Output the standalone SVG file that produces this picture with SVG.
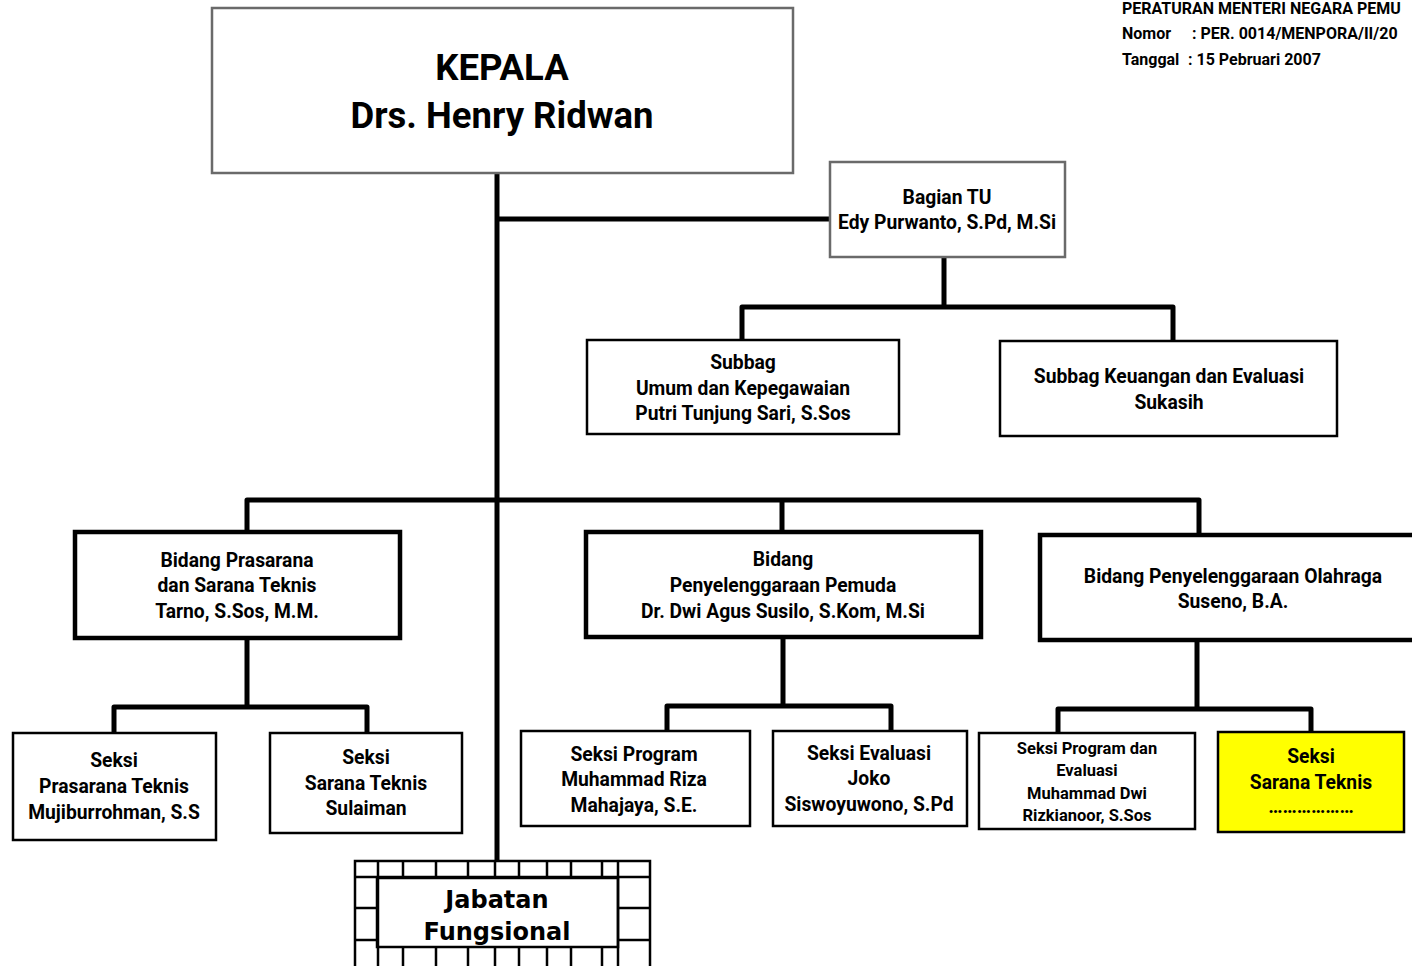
<svg xmlns="http://www.w3.org/2000/svg" width="1412" height="966" viewBox="0 0 1412 966">
<style>
text{font-family:Roboto,"Liberation Sans",sans-serif;font-weight:bold;fill:#000;text-anchor:middle}
.t{font-size:19.3px}
.s{font-size:16.5px}
.hd{font-size:16px;text-anchor:start}
.big{font-size:36.5px}
.jf{font-family:"DejaVu Sans","Liberation Sans",sans-serif;font-size:24px}
.gray{fill:#fff;stroke:#6a6a6a;stroke-width:2.5}
.thin{fill:#fff;stroke:#000;stroke-width:2.5}
.thick{fill:#fff;stroke:#000;stroke-width:4.5}
.yel{fill:#ffff00;stroke:#000;stroke-width:2.5}
.c{fill:none;stroke:#000;stroke-width:5;stroke-linejoin:round}
.g{fill:none;stroke:#000;stroke-width:2.5}
</style>
<rect width="1412" height="966" fill="#fff"/>
<g id="header">
<text class="hd" x="1122" y="14">PERATURAN MENTERI NEGARA PEMU</text>
<text class="hd" x="1122" y="39">Nomor</text>
<text class="hd" x="1192" y="39">: PER. 0014/MENPORA/II/20</text>
<text class="hd" x="1122" y="65">Tanggal</text>
<text class="hd" x="1188" y="65">: 15 Pebruari 2007</text>
</g>
<g id="connectors">
<path class="c" d="M497 173 V862"/>
<path class="c" d="M497 219 H836"/>
<path class="c" d="M944 257 V307 M742 340 V307 H1173 V341"/>
<path class="c" d="M247 532 V500 H1199 V535 M782 500 V532"/>
<path class="c" d="M247 638 V707 M114 733 V707 H367 V733"/>
<path class="c" d="M783 637 V706 M667 731 V706 H891 V731"/>
<path class="c" d="M1197 640 V709 M1058 733 V709 H1311 V732"/>
</g>
<g id="kepala">
<rect class="gray" x="212" y="8" width="581" height="165"/>
<text class="big" x="502" y="80">KEPALA</text>
<text class="big" x="502" y="128">Drs. Henry Ridwan</text>
</g>
<g id="bagian-tu">
<rect class="gray" x="830" y="162" width="235" height="95"/>
<text class="t" x="947" y="204">Bagian TU</text>
<text class="t" x="947" y="229">Edy Purwanto, S.Pd, M.Si</text>
</g>
<g id="subbag-umum">
<rect class="thin" x="587" y="340" width="312" height="94"/>
<text class="t" x="743" y="369">Subbag</text>
<text class="t" x="743" y="395">Umum dan Kepegawaian</text>
<text class="t" x="743" y="420">Putri Tunjung Sari, S.Sos</text>
</g>
<g id="subbag-keuangan">
<rect class="thin" x="1000" y="341" width="337" height="95"/>
<text class="t" x="1169" y="383">Subbag Keuangan dan Evaluasi</text>
<text class="t" x="1169" y="409">Sukasih</text>
</g>
<g id="bidang-prasarana">
<rect class="thick" x="75" y="532" width="325" height="106"/>
<text class="t" x="237" y="567">Bidang Prasarana</text>
<text class="t" x="237" y="592">dan Sarana Teknis</text>
<text class="t" x="237" y="618">Tarno, S.Sos, M.M.</text>
</g>
<g id="bidang-pemuda">
<rect class="thick" x="586" y="532" width="395" height="105"/>
<text class="t" x="783" y="566">Bidang</text>
<text class="t" x="783" y="592">Penyelenggaraan Pemuda</text>
<text class="t" x="783" y="618">Dr. Dwi Agus Susilo, S.Kom, M.Si</text>
</g>
<g id="bidang-olahraga">
<rect class="thick" x="1040" y="535" width="390" height="105"/>
<text class="t" x="1233" y="583">Bidang Penyelenggaraan Olahraga</text>
<text class="t" x="1233" y="608">Suseno, B.A.</text>
</g>
<g id="seksi-prasarana">
<rect class="thin" x="13" y="733" width="203" height="107"/>
<text class="t" x="114" y="767">Seksi</text>
<text class="t" x="114" y="793">Prasarana Teknis</text>
<text class="t" x="114" y="819">Mujiburrohman, S.S</text>
</g>
<g id="seksi-sarana">
<rect class="thin" x="270" y="733" width="192" height="100"/>
<text class="t" x="366" y="764">Seksi</text>
<text class="t" x="366" y="790">Sarana Teknis</text>
<text class="t" x="366" y="815">Sulaiman</text>
</g>
<g id="seksi-program">
<rect class="thin" x="521" y="731" width="229" height="95"/>
<text class="t" x="634" y="761">Seksi Program</text>
<text class="t" x="634" y="786">Muhammad Riza</text>
<text class="t" x="634" y="812">Mahajaya, S.E.</text>
</g>
<g id="seksi-evaluasi">
<rect class="thin" x="773" y="731" width="194" height="95"/>
<text class="t" x="869" y="760">Seksi Evaluasi</text>
<text class="t" x="869" y="785">Joko</text>
<text class="t" x="869" y="811">Siswoyuwono, S.Pd</text>
</g>
<g id="seksi-program-evaluasi">
<rect class="thin" x="979" y="733" width="216" height="96"/>
<text class="s" x="1087" y="754">Seksi Program dan</text>
<text class="s" x="1087" y="776">Evaluasi</text>
<text class="s" x="1087" y="799">Muhammad Dwi</text>
<text class="s" x="1087" y="821">Rizkianoor, S.Sos</text>
</g>
<g id="seksi-sarana-olahraga">
<rect class="yel" x="1218" y="732" width="186" height="100"/>
<text class="t" x="1311" y="763">Seksi</text>
<text class="t" x="1311" y="789">Sarana Teknis</text>
<text class="t" x="1311" y="813">………………</text>
</g>
<g id="jabatan-fungsional">
<rect class="g" x="355" y="861" width="295" height="120"/>
<path class="g" d="M355 877 H650 M378 861 V966 M403 861 V878 M436 861 V878 M468 861 V878 M495 861 V878 M519 861 V878 M547 861 V878 M571 861 V878 M602 861 V878 M618 861 V966 M355 908 H378 M355 940 H378 M618 908 H650 M618 940 H650 M403 947 V966 M436 947 V966 M468 947 V966 M495 947 V966 M519 947 V966 M547 947 V966 M571 947 V966 M602 947 V966"/>
<rect class="g" x="377" y="878" width="241" height="69"/>
<text class="jf" x="497" y="908">Jabatan</text>
<text class="jf" x="497" y="940">Fungsional</text>
</g>
</svg>
